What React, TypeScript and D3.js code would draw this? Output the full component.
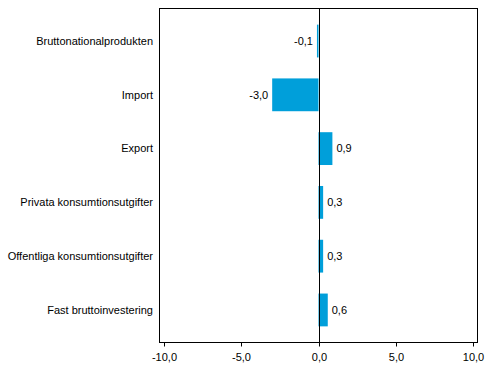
import React from "react";
import * as d3 from "d3";

const categories = [
  "Bruttonationalprodukten",
  "Import",
  "Export",
  "Privata konsumtionsutgifter",
  "Offentliga konsumtionsutgifter",
  "Fast bruttoinvestering",
];
const values = [-0.1, -3.0, 0.9, 0.3, 0.3, 0.6];
const ticks = [-10, -5, 0, 5, 10];

const W = 491;
const H = 377;
const left = 159.5;
const right = 477.5;
const top = 8.5;
const bottom = 342.5;

export default function App() {
  const x = d3.scaleLinear().domain([-10.3, 10.3]).range([left, right]);
  const y = d3
    .scaleBand<string>()
    .domain(categories)
    .range([top, bottom])
    .paddingInner(0.39)
    .paddingOuter(0.3);
  const fmt = (v: number) => v.toFixed(1).replace(".", ",");
  const font = "'Liberation Sans', Arial, sans-serif";
  const x0 = Math.round(x(0)) + 0.5;
  return (
    <svg
      width={W}
      height={H}
      style={{ position: "absolute", left: 0, top: 0, background: "#fff" }}
      fontFamily={font}
      fontSize={11}
    >
      {categories.map((c, i) => {
        const v = values[i];
        const x1 = x(Math.min(0, v));
        const x2 = x(Math.max(0, v));
        const yy = y(c)!;
        const cy = yy + y.bandwidth() / 2;
        return (
          <g key={c}>
            <rect x={x1} y={yy} width={x2 - x1} height={y.bandwidth()} fill="#009FDA" />
            <text
              x={v < 0 ? x1 - 4 : x2 + 4}
              y={cy}
              dy="0.35em"
              textAnchor={v < 0 ? "end" : "start"}
              fill="#000"
            >
              {fmt(v)}
            </text>
            <text x={153} y={cy} dy="0.35em" textAnchor="end" fill="#000">
              {c}
            </text>
          </g>
        );
      })}
      <rect x={left} y={top} width={right - left} height={bottom - top} fill="none" stroke="#000" strokeWidth={1} />
      <line x1={x0} x2={x0} y1={top} y2={bottom} stroke="#000" strokeWidth={1} />
      {ticks.map((t) => {
        const tx = Math.round(x(t)) + 0.5;
        return (
          <g key={t}>
            <line x1={tx} x2={tx} y1={bottom} y2={bottom + 4} stroke="#000" />
            <text x={tx} y={357} dy="0.35em" textAnchor="middle" fill="#000">
              {fmt(t)}
            </text>
          </g>
        );
      })}
    </svg>
  );
}
